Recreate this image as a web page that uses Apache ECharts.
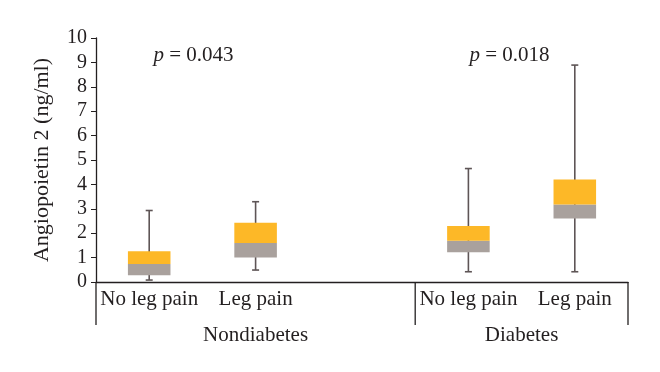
<!DOCTYPE html>
<html><head><meta charset="utf-8">
<script src="https://cdn.jsdelivr.net/npm/echarts@6/dist/echarts.min.js"></script>
<style>html,body{margin:0;padding:0;background:#fff}#c{width:660px;height:372px}</style>
</head><body><div id="c"></div>
<script>
const categories = ["No leg pain", "Leg pain", "", "No leg pain", "Leg pain"];
const groups = ["Nondiabetes", "Diabetes"];
const mins    = [0.08, 0.49, null, 0.42, 0.42];
const q1s     = [0.28, 1.00, null, 1.22, 2.60];
const medians = [0.74, 1.60, null, 1.69, 3.18];
const q3s     = [1.26, 2.43, null, 2.30, 4.20];
const maxs    = [2.93, 3.29, null, 4.65, 8.89];
const pLabels = ["0.043", "0.018"];

const FONT = "Liberation Serif";
const TXT = "#231f20";
const data = [];
categories.forEach((c, i) => {
  if (mins[i] != null) data.push([i, mins[i], q1s[i], medians[i], q3s[i], maxs[i]]);
});

const chart = echarts.init(document.getElementById('c'));
chart.setOption({
  animation: false,
  grid: {left: 96, right: 32, top: 38, bottom: 90},
  xAxis: {
    type: 'category', data: categories, boundaryGap: true,
    axisLine: {lineStyle: {color: '#231f20', width: 1.3}},
    axisTick: {show: false},
    axisLabel: {fontFamily: FONT, fontSize: 21, color: TXT, margin: 7, interval: 0}
  },
  yAxis: {
    type: 'value', min: 0, max: 10, interval: 1,
    name: 'Angiopoietin 2 (ng/ml)', nameLocation: 'middle', nameGap: 43, nameRotate: 90,
    nameTextStyle: {fontFamily: FONT, fontSize: 22, color: TXT},
    axisLine: {show: true, lineStyle: {color: '#231f20', width: 1.3}},
    axisTick: {show: true, inside: false, length: 5, lineStyle: {color: '#231f20'}},
    axisLabel: {fontFamily: FONT, fontSize: 20, color: TXT, margin: 9},
    splitLine: {show: false}
  },
  series: [{
    type: 'custom',
    data: data,
    renderItem: function (params, api) {
      const i = api.value(0);
      const x = api.coord([i, 0])[0];
      const bw = api.size([1, 0])[0] * 0.4;
      const yMin = api.coord([i, api.value(1)])[1];
      const yQ1 = api.coord([i, api.value(2)])[1];
      const yMed = api.coord([i, api.value(3)])[1];
      const yQ3 = api.coord([i, api.value(4)])[1];
      const yMax = api.coord([i, api.value(5)])[1];
      const wc = '#5e5556', cap = 3.5;
      return {
        type: 'group',
        children: [
          {type: 'line', shape: {x1: x, y1: yMin, x2: x, y2: yMax}, style: {stroke: wc, lineWidth: 1.6}},
          {type: 'line', shape: {x1: x - cap, y1: yMin, x2: x + cap, y2: yMin}, style: {stroke: wc, lineWidth: 1.6}},
          {type: 'line', shape: {x1: x - cap, y1: yMax, x2: x + cap, y2: yMax}, style: {stroke: wc, lineWidth: 1.6}},
          {type: 'rect', shape: {x: x - bw / 2, y: yMed, width: bw, height: yQ1 - yMed}, style: {fill: '#a9a19d'}},
          {type: 'rect', shape: {x: x - bw / 2, y: yQ3, width: bw, height: yMed - yQ3}, style: {fill: '#fdb827'}}
        ]
      };
    }
  }]
});

// group brackets, group labels and p-value annotations positioned from the axes
const y0 = chart.convertToPixel({yAxisIndex: 0}, 0);
const bandW = chart.convertToPixel({xAxisIndex: 0}, 1) - chart.convertToPixel({xAxisIndex: 0}, 0);
const edge = k => chart.convertToPixel({xAxisIndex: 0}, 0) - bandW / 2 + k * bandW;
const yBot = y0 + 43;
const rich = {i: {fontFamily: FONT, fontSize: 21, fontStyle: 'italic', fill: TXT}, n: {fontFamily: FONT, fontSize: 21, fill: TXT}};
const pY = chart.convertToPixel({yAxisIndex: 0}, 9.3);
chart.setOption({
  graphic: [
    {type: 'line', shape: {x1: edge(0), y1: y0, x2: edge(0), y2: yBot}, style: {stroke: '#231f20', lineWidth: 1.3}},
    {type: 'line', shape: {x1: edge(3), y1: y0, x2: edge(3), y2: yBot}, style: {stroke: '#231f20', lineWidth: 1.3}},
    {type: 'line', shape: {x1: edge(5), y1: y0, x2: edge(5), y2: yBot}, style: {stroke: '#231f20', lineWidth: 1.3}},
    {type: 'text', x: (edge(0) + edge(3)) / 2, y: y0 + 53, style: {text: groups[0], fontFamily: FONT, fontSize: 21, fill: TXT, align: 'center', verticalAlign: 'middle'}},
    {type: 'text', x: (edge(3) + edge(5)) / 2, y: y0 + 53, style: {text: groups[1], fontFamily: FONT, fontSize: 21, fill: TXT, align: 'center', verticalAlign: 'middle'}},
    {type: 'text', x: edge(0.54), y: pY, style: {text: '{i|p}{n| = ' + pLabels[0] + '}', rich: rich, align: 'left', verticalAlign: 'middle'}},
    {type: 'text', x: edge(3.51), y: pY, style: {text: '{i|p}{n| = ' + pLabels[1] + '}', rich: rich, align: 'left', verticalAlign: 'middle'}}
  ]
});
</script></body></html>
